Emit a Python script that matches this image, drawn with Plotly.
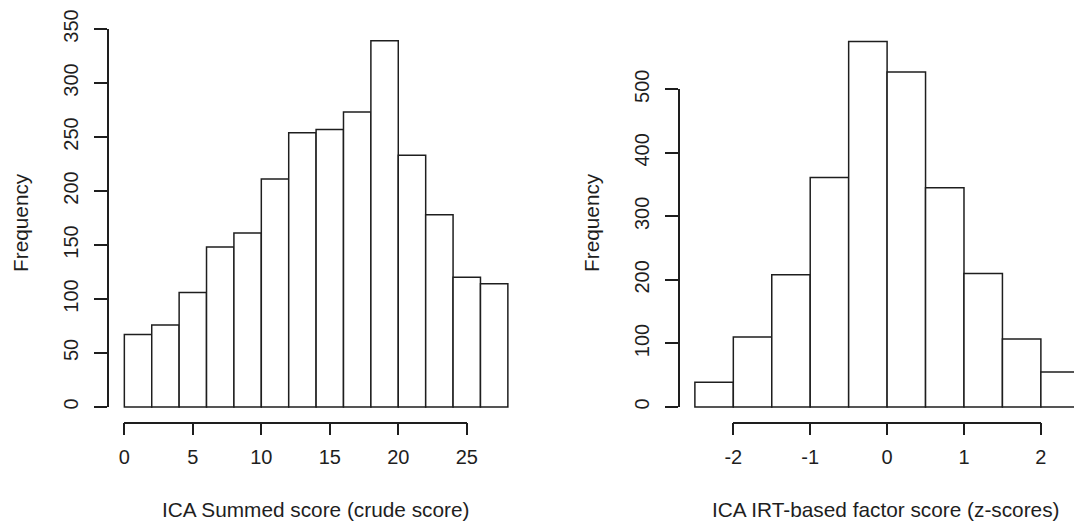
import plotly.graph_objects as go

# ---------------- data ----------------
left_breaks = [0, 2, 4, 6, 8, 10, 12, 14, 16, 18, 20, 22, 24, 26, 28]
left_counts = [67, 76, 106, 148, 161, 211, 254, 257, 273, 339, 233, 178, 120, 114]
left_xticks = [0, 5, 10, 15, 20, 25]
left_xticktext = ["0", "5", "10", "15", "20", "25"]
left_yticks = [0, 50, 100, 150, 200, 250, 300, 350]
left_xtitle = "ICA Summed score (crude score)"

right_breaks = [-2.5, -2.0, -1.5, -1.0, -0.5, 0.0, 0.5, 1.0, 1.5, 2.0, 2.5]
right_counts = [39, 110, 208, 361, 575, 527, 345, 210, 107, 55]
right_xticks = [-2, -1, 0, 1, 2]
right_xticktext = ["-2", "-1", "0", "1", "2"]
right_yticks = [0, 100, 200, 300, 400, 500]
right_xtitle = "ICA IRT-based factor score (z-scores)"

ytitle = "Frequency"

# ---------------- layout geometry (pixels) ----------------
W, H = 1074, 526
FONT = "Liberation Sans, Arial, Helvetica, sans-serif"
INK = "#1e1e1e"
LW = 1.5
TICKFONT = 20
TITLEFONT = 20.8

LEFT_REGION = dict(l=109.0, r=523.2, t=26.2, b=421.6)
RIGHT_REGION = dict(l=679.5, r=1094.7, t=27.0, b=421.6)

fig = go.Figure()
layout = dict(
    template="none",
    width=W, height=H, autosize=False, margin=dict(l=0, r=0, t=0, b=0, pad=0),
    paper_bgcolor="white", plot_bgcolor="rgba(0,0,0,0)", showlegend=False,
    font=dict(family=FONT, color=INK),
)
annotations = []


def hidden_axis(domain, rng, anchor):
    return dict(domain=domain, range=rng, anchor=anchor, visible=False, automargin=False,
                showgrid=False, zeroline=False, fixedrange=True)


def panel(breaks, counts, xticks, xticktext, yticks, xtitle, region, ids, title_x, ytitle_x):
    xm, ym, xd, yd = ids  # axis numbers: main x, main y, decor x, decor y
    lo, hi = breaks[0], breaks[-1]
    pad = 0.04 * (hi - lo)
    xr = [lo - pad, hi + pad]
    ymax = max(counts)
    yr = [-0.04 * ymax, 1.04 * ymax]

    def xpx(v):
        return region["l"] + (v - xr[0]) / (xr[1] - xr[0]) * (region["r"] - region["l"])

    def ypx(v):
        return region["b"] - (v - yr[0]) / (yr[1] - yr[0]) * (region["b"] - region["t"])

    # clip at the figure's right edge (reference image is cropped there)
    right_px = min(region["r"], W)
    xr_draw = [xr[0], xr[0] + (right_px - region["l"]) / (region["r"] - region["l"]) * (xr[1] - xr[0])]

    xdom = [region["l"] / W, right_px / W]
    ydom = [1 - region["b"] / H, 1 - region["t"] / H]

    xname = "x" if xm == 1 else f"x{xm}"
    yname = "y" if ym == 1 else f"y{ym}"

    layout[f"xaxis{'' if xm == 1 else xm}"] = hidden_axis(xdom, xr_draw, yname)
    layout[f"yaxis{'' if ym == 1 else ym}"] = hidden_axis(ydom, yr, xname)

    # R-style detached axes spanning first to last tick
    layout[f"xaxis{xd}"] = dict(
        domain=[xpx(xticks[0]) / W, xpx(xticks[-1]) / W], range=[xticks[0], xticks[-1]],
        anchor=yname, showline=True, linecolor=INK, linewidth=LW, automargin=False,
        ticks="outside", ticklen=12, tickwidth=LW, tickcolor=INK,
        tickmode="array", tickvals=xticks, ticktext=xticktext, ticklabelstandoff=5,
        tickfont=dict(size=TICKFONT, family=FONT, color=INK),
        showgrid=False, zeroline=False, fixedrange=True,
    )
    layout[f"yaxis{yd}"] = dict(
        domain=[1 - ypx(yticks[0]) / H, 1 - ypx(yticks[-1]) / H], range=[yticks[0], yticks[-1]],
        anchor=xname, showline=True, linecolor=INK, linewidth=LW, automargin=False,
        ticks="outside", ticklen=13, tickwidth=LW, tickcolor=INK,
        tickmode="array", tickvals=yticks, ticktext=[str(v) for v in yticks],
        ticklabelstandoff=8,
        tickangle=-90, tickfont=dict(size=TICKFONT, family=FONT, color=INK),
        showgrid=False, zeroline=False, fixedrange=True,
    )

    centers = [(a + b) / 2 for a, b in zip(breaks[:-1], breaks[1:])]
    widths = [b - a for a, b in zip(breaks[:-1], breaks[1:])]
    fig.add_trace(go.Bar(
        x=centers, y=counts, width=widths, xaxis=xname, yaxis=yname,
        marker=dict(color="white", line=dict(color=INK, width=LW)),
        hoverinfo="skip",
    ))
    fig.add_trace(go.Scatter(x=[], y=[], xaxis=f"x{xd}", yaxis=yname, hoverinfo="skip"))
    fig.add_trace(go.Scatter(x=[], y=[], xaxis=xname, yaxis=f"y{yd}", hoverinfo="skip"))

    annotations.append(dict(
        text=xtitle, xref="paper", yref="paper", x=title_x / W, y=1 - 509 / H,
        xanchor="center", yanchor="middle", showarrow=False,
        font=dict(size=TITLEFONT, family=FONT, color=INK),
    ))
    annotations.append(dict(
        text=ytitle, xref="paper", yref="paper", x=ytitle_x / W, y=1 - 223 / H,
        xanchor="center", yanchor="middle", showarrow=False, textangle=-90,
        font=dict(size=TITLEFONT, family=FONT, color=INK),
    ))


panel(left_breaks, left_counts, left_xticks, left_xticktext, left_yticks, left_xtitle,
      LEFT_REGION, (1, 1, 3, 3), 315, 20)
panel(right_breaks, right_counts, right_xticks, right_xticktext, right_yticks, right_xtitle,
      RIGHT_REGION, (2, 2, 4, 4), 886, 591)

layout["annotations"] = annotations
fig.update_layout(**layout)
fig.write_html("out.html", config={"displayModeBar": False},
               post_script="document.body.style.margin='0px';document.body.style.overflow='hidden';")
